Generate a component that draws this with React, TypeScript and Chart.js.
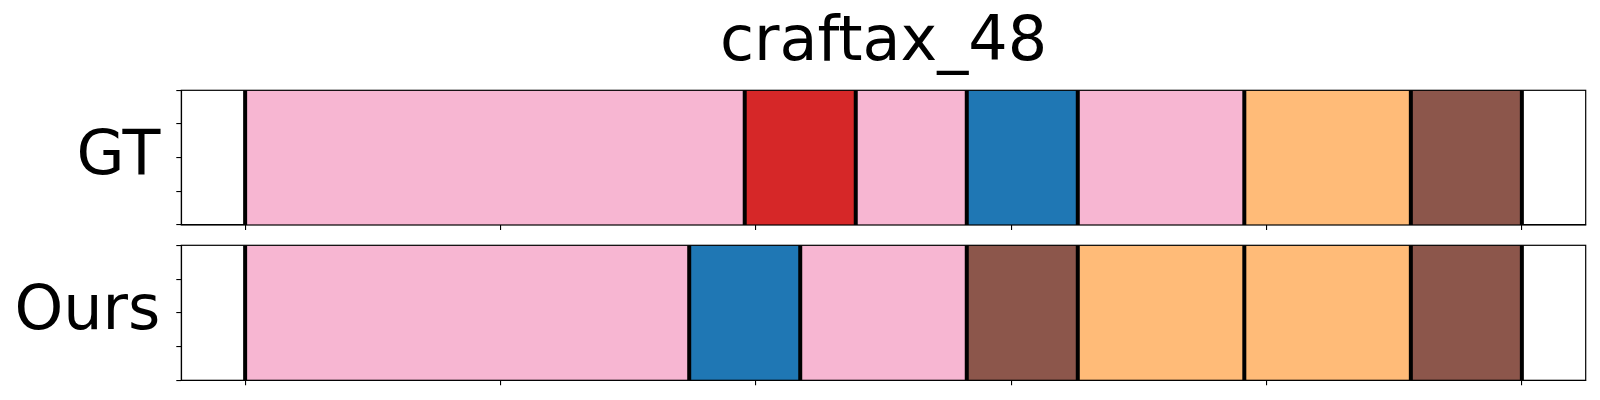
import React, { useEffect, useRef } from 'react';
import { Chart, registerables } from 'chart.js';

Chart.register(...registerables);

const TITLE = 'craftax_48';
const ROW_LABELS = ['GT', 'Ours'];
// segment boundaries (frame index) and class of each segment
const GT_BOUNDS = [0, 9, 11, 13, 15, 18, 21, 23];
const GT_CLASSES = [13, 6, 13, 0, 13, 3, 10];
const OURS_BOUNDS = [0, 8, 10, 13, 15, 18, 21, 23];
const OURS_CLASSES = [13, 0, 13, 10, 3, 3, 10];
const X_TICKS = [0, 4.6, 9.2, 13.8, 18.4, 23];
const Y_TICKS = [0, 0.25, 0.5, 0.75, 1];
const X_MIN = -1.15;
const X_MAX = 24.15;

const TAB20 = [
  '#1f77b4', '#aec7e8', '#ff7f0e', '#ffbb78', '#2ca02c', '#98df8a', '#d62728', '#ff9896',
  '#9467bd', '#c5b0d5', '#8c564b', '#c49c94', '#e377c2', '#f7b6d2', '#7f7f7f', '#c7c7c7',
  '#bcbd22', '#dbdb8d', '#17becf', '#9edae5',
];

const FONT = 'DejaVu Sans';

const framePlugin = {
  id: 'frame',
  afterDatasetsDraw(chart: any) {
    const { ctx, chartArea: a } = chart;
    ctx.save();
    ctx.strokeStyle = '#000';
    ctx.lineWidth = 1.2;
    ctx.strokeRect(a.left, a.top, a.right - a.left, a.bottom - a.top);
    ctx.restore();
  },
};

function makeConfig(label: string, bounds: number[], classes: number[], withTitle: boolean, padding: any): any {
  const segs = classes.map((c, i) => ({ x: [bounds[i], bounds[i + 1]], y: label }));
  const lines: any[] = [];
  bounds.forEach((b) => {
    lines.push({ x: b, y: 0 }, { x: b, y: 1 }, { x: b, y: null });
  });
  return {
    type: 'bar',
    data: {
      labels: [label],
      datasets: [
        {
          type: 'line',
          data: lines,
          xAxisID: 'x',
          yAxisID: 'y',
          borderColor: '#000',
          borderWidth: 4,
          pointRadius: 0,
          spanGaps: false,
          order: 0,
        },
        {
          type: 'bar',
          indexAxis: 'y',
          data: segs,
          xAxisID: 'x',
          yAxisID: 'yc',
          backgroundColor: classes.map((c) => TAB20[c]),
          borderWidth: 0,
          categoryPercentage: 1,
          barPercentage: 1,
          grouped: false,
          order: 1,
        },
      ],
    },
    options: {
      animation: false,
      responsive: false,
      layout: { padding },
      plugins: {
        legend: { display: false },
        tooltip: { enabled: false },
        title: {
          display: withTitle,
          text: TITLE,
          fullSize: false,
          color: '#000',
          font: { family: FONT, size: 62, weight: 'normal' },
          padding: { top: 6.4, bottom: 9.5 },
        },
      },
      scales: {
        x: {
          type: 'linear',
          min: X_MIN,
          max: X_MAX,
          offset: false,
          afterBuildTicks: (s: any) => {
            s.ticks = X_TICKS.map((v) => ({ value: v }));
          },
          ticks: { display: false },
          grid: { offset: false, drawOnChartArea: false, color: '#000', lineWidth: 1.1, tickLength: 5 },
          border: { display: true, color: '#000', width: 1.1 },
        },
        y: {
          type: 'linear',
          position: 'left',
          min: 0,
          max: 1,
          offset: false,
          afterBuildTicks: (s: any) => {
            s.ticks = Y_TICKS.map((v) => ({ value: v }));
          },
          ticks: {
            autoSkip: false,
            color: '#000',
            padding: 16,
            font: { family: FONT, size: 62 },
            callback: (v: any) => (v === 0.5 ? label : ''),
          },
          grid: { offset: false, drawOnChartArea: false, color: '#000', lineWidth: 1.1, tickLength: 5 },
          border: { display: true, color: '#000', width: 1.1 },
          afterFit: (s: any) => {
            s.width = 181.3;
            s.paddingTop = 0;
            s.paddingBottom = 0;
          },
        },
        yc: {
          type: 'category',
          labels: [label],
          display: false,
          offset: true,
        },
      },
    },
    plugins: [framePlugin],
  };
}

export default function App() {
  const r1 = useRef<HTMLCanvasElement>(null);
  const r2 = useRef<HTMLCanvasElement>(null);
  useEffect(() => {
    const c1 = new Chart(r1.current as any, makeConfig(ROW_LABELS[0], GT_BOUNDS, GT_CLASSES, true, { top: 0, bottom: 2, left: 0, right: 14.3 }));
    const c2 = new Chart(r2.current as any, makeConfig(ROW_LABELS[1], OURS_BOUNDS, OURS_CLASSES, false, { top: 13.3, bottom: 14.7, left: 0, right: 14.3 }));
    return () => {
      c1.destroy();
      c2.destroy();
    };
  }, []);
  return (
    <div style={{ position: 'absolute', left: 0, top: 0, width: 1600, height: 400, background: '#fff' }}>
      <canvas ref={r1} width={1600} height={232} style={{ position: 'absolute', left: 0, top: 0 }} />
      <canvas ref={r2} width={1600} height={168} style={{ position: 'absolute', left: 0, top: 232 }} />
    </div>
  );
}
